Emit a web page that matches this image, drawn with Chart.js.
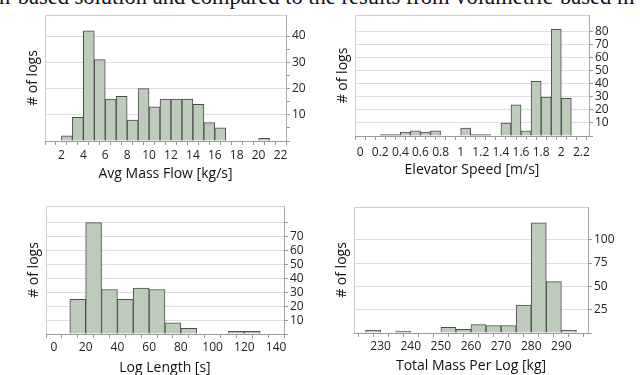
<!DOCTYPE html>
<html>
<head>
<meta charset="utf-8">
<script src="https://cdn.jsdelivr.net/npm/chart.js@4"></script>
<style>
  body { margin: 0; width: 640px; height: 375px; overflow: hidden; background: #fff; position: relative; }
  .c { position: absolute; }
  #cap { position: absolute; left: -1px; top: -14.5px; font: 22.5px/22px "Liberation Serif", serif; color: #111; white-space: nowrap; }
</style>
</head>
<body>
<div id="cap">n-based solution and compared to the results from volumetric-based m</div>
<canvas id="massFlow" class="c"></canvas>
<canvas id="elevSpeed" class="c"></canvas>
<canvas id="logLength" class="c"></canvas>
<canvas id="totalMass" class="c"></canvas>
<script>
// bin start values and counts
const massFlowBins = [2, 3, 4, 5, 6, 7, 8, 9, 10, 11, 12, 13, 14, 15, 16, 17, 18, 19, 20];
const massFlowCounts = [2, 9, 42, 31, 16, 17, 8, 20, 13, 16, 16, 16, 14, 7, 5, 0, 0, 0, 1];

const speedBins = [0.2, 0.3, 0.4, 0.5, 0.6, 0.7, 0.8, 0.9, 1.0, 1.1, 1.2, 1.3, 1.4, 1.5, 1.6, 1.7, 1.8, 1.9, 2.0];
const speedCounts = [1, 1, 3, 4, 3, 4, 0, 0, 6, 1, 1, 0, 10, 24, 4, 42, 30, 82, 29];

const lengthBins = [10, 20, 30, 40, 50, 60, 70, 80, 90, 100, 110, 120];
const lengthCounts = [25, 80, 32, 25, 33, 32, 8, 4, 0, 0, 2, 2];

const totalMassBins = [225, 230, 235, 240, 245, 250, 255, 260, 265, 270, 275, 280, 285, 290];
const totalMassCounts = [3, 0, 2, 0, 0, 6, 4, 9, 8, 8, 30, 118, 55, 3];

const FONT = "'Open Sans', 'Noto Sans', sans-serif";

const boxPlugin = {
  id: 'box',
  beforeDatasetsDraw(chart) {
    const a = chart.chartArea, ctx = chart.ctx;
    ctx.save();
    ctx.strokeStyle = '#cfcfcf';
    ctx.lineWidth = 1;
    ctx.beginPath();
    ctx.moveTo(a.left + 0.5, a.bottom);
    ctx.lineTo(a.left + 0.5, a.top + 0.5);
    ctx.lineTo(a.right, a.top + 0.5);
    ctx.stroke();
    ctx.restore();
  }
};

const near = (v, s) => Math.abs(v / s - Math.round(v / s)) < 1e-6;

function hist(id, p) {
  const el = document.getElementById(id);
  el.style.left = p.L + 'px';
  el.style.top = p.T + 'px';
  el.style.width = p.W + 'px';
  el.style.height = p.H + 'px';
  el.width = p.W;
  el.height = p.H;

  const pts = p.bins.map((b, i) => ({ x: b + p.bw / 2, y: p.counts[i] }));

  return new Chart(el, {
    type: 'bar',
    data: {
      datasets: [{
        data: pts,
        backgroundColor: '#bccbba',
        borderColor: '#4d4d4d',
        borderWidth: 1,
        barPercentage: 1,
        categoryPercentage: 1,
        grouped: false,
        yAxisID: 'y'
      }]
    },
    plugins: [boxPlugin],
    options: {
      responsive: false,
      animation: false,
      events: [],
      layout: { padding: { top: p.ay1 - p.T, left: 0, right: 0, bottom: 0 } },
      plugins: { legend: { display: false }, tooltip: { enabled: false } },
      scales: {
        x: {
          type: 'linear',
          min: p.xmin,
          max: p.xmax,
          afterBuildTicks: s => { s.ticks = s.ticks.filter(t => near(t.value, p.xstep)); },
          afterFit: s => { s.height = p.T + p.H - p.ay2; },
          grid: { drawOnChartArea: false, tickLength: 4, tickColor: '#9a9a9a' },
          border: { color: '#9a9a9a' },
          ticks: {
            stepSize: p.xstep,
            includeBounds: false,
            autoSkip: false,
            maxRotation: 0,
            padding: p.xpad,
            color: '#222',
            font: { family: FONT, size: 12 },
            callback: v => p.xlab(v)
          },
          title: {
            display: true,
            text: p.xtitle,
            color: '#111',
            font: { family: FONT, size: 14 },
            padding: { top: 0, bottom: 0 }
          }
        },
        y: {
          position: 'right',
          min: 0,
          max: p.ymax,
          afterFit: s => { s.width = p.L + p.W - p.ax2; },
          grid: {
            tickLength: 4,
            color: c => (c.tick && c.tick.value > 0 && near(c.tick.value, p.gstep) && c.tick.value < p.ymax) ? '#dedede' : 'rgba(0,0,0,0)',
            tickColor: c => (c.tick && near(c.tick.value, p.ystep)) ? '#9a9a9a' : 'rgba(0,0,0,0)'
          },
          border: { color: '#a8a8a8' },
          ticks: {
            stepSize: p.ystep,
            autoSkip: false,
            padding: 2,
            color: '#222',
            font: { family: FONT, size: 12 },
            callback: v => (v > 0 && near(v, p.gstep) && v <= p.ylabMax) ? String(v) : ''
          }
        },
        yL: {
          position: 'left',
          min: 0,
          max: p.ymax,
          afterFit: s => { s.width = p.ax1 - p.L; },
          grid: { display: false },
          border: { display: false },
          ticks: { display: false },
          title: {
            display: true,
            text: '# of logs',
            color: '#111',
            font: { family: FONT, size: 14 },
            padding: { top: p.ytx - p.L - 8.4, bottom: 0 }
          }
        }
      }
    }
  });
}

hist('massFlow', {
  L: 0, T: 0, W: 320, H: 182,
  ax1: 45, ax2: 286, ay1: 15, ay2: 141, ytx: 33,
  bins: massFlowBins, counts: massFlowCounts, bw: 1,
  xmin: 1, xmax: 22, xstep: 1, xpad: 3,
  xlab: v => (near(v, 2) ? String(v) : ''),
  xtitle: 'Avg Mass Flow [kg/s]',
  ymax: 48, ystep: 5, gstep: 10, ylabMax: 40
});

hist('elevSpeed', {
  L: 320, T: 0, W: 320, H: 178,
  ax1: 355, ax2: 589, ay1: 15, ay2: 136, ytx: 343,
  bins: speedBins, counts: speedCounts, bw: 0.1,
  xmin: 0, xmax: 2.225, xstep: 0.1, xpad: 5,
  xlab: v => (near(v, 0.2) ? String(Math.round(v * 10) / 10) : ''),
  xtitle: 'Elevator Speed [m/s]',
  ymax: 93, ystep: 10, gstep: 10, ylabMax: 80
});

hist('logLength', {
  L: 0, T: 190, W: 320, H: 186,
  ax1: 46, ax2: 284, ay1: 206, ay2: 334, ytx: 34,
  bins: lengthBins, counts: lengthCounts, bw: 10,
  xmin: 0, xmax: 140, xstep: 10, xpad: 2,
  xlab: v => (near(v, 20) ? String(v) : ''),
  xtitle: 'Log Length [s]',
  ymax: 92, ystep: 10, gstep: 10, ylabMax: 70
});

hist('totalMass', {
  L: 320, T: 190, W: 320, H: 184,
  ax1: 354, ax2: 588, ay1: 207, ay2: 333, ytx: 342,
  bins: totalMassBins, counts: totalMassCounts, bw: 5,
  xmin: 223.75, xmax: 296.25, xstep: 5, xpad: 2,
  xlab: v => (near(v, 10) ? String(v) : ''),
  xtitle: 'Total Mass Per Log [kg]',
  ymax: 135, ystep: 25, gstep: 25, ylabMax: 100
});
</script>
</body>
</html>
